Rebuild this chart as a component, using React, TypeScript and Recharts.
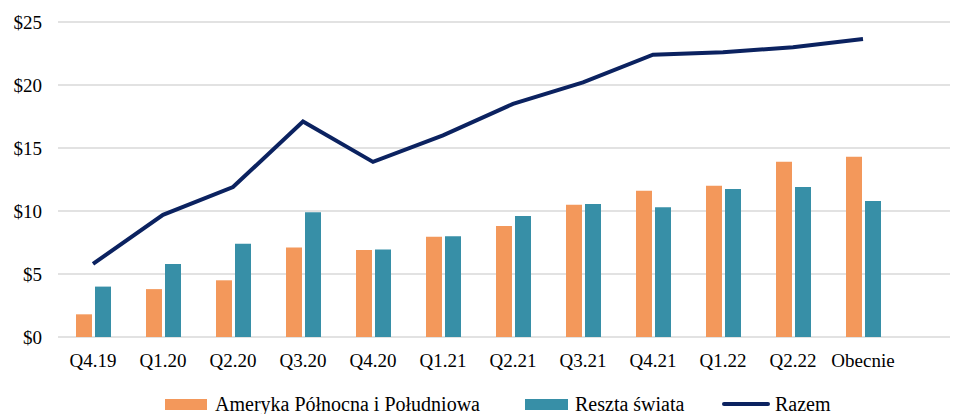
import { Bar, Line, XAxis, YAxis, CartesianGrid, Legend, ComposedChart } from 'recharts';

// kwartały
const quarters = ['Q4.19', 'Q1.20', 'Q2.20', 'Q3.20', 'Q4.20', 'Q1.21', 'Q2.21', 'Q3.21', 'Q4.21', 'Q1.22', 'Q2.22', 'Obecnie'];
const americas = [1.8, 3.8, 4.5, 7.1, 6.9, 7.95, 8.8, 10.5, 11.6, 12.0, 13.9, 14.3];
const restOfWorld = [4.0, 5.8, 7.4, 9.9, 6.95, 8.0, 9.6, 10.55, 10.3, 11.75, 11.9, 10.8];
const total = [5.8, 9.7, 11.9, 17.1, 13.9, 16.0, 18.5, 20.2, 22.4, 22.6, 23.0, 23.65];
const yTicks = [0, 5, 10, 15, 20, 25];

const data = quarters.map((q, i) => ({
    quarter: q,
    americas: americas[i],
    rest: restOfWorld[i],
    total: total[i],
}));

const ORANGE = '#F3985B';
const TEAL = '#378FA7';
const NAVY = '#0B2260';
const FONT = 'Liberation Serif, DejaVu Serif, serif';

function LegendContent() {
    const iconStyle = (left: number, width: number, height: number, color: string) => ({
        position: 'absolute' as const,
        left,
        top: 10 - height / 2,
        width,
        height,
        background: color,
        borderRadius: height < 6 ? 2 : 0,
    });
    const textStyle = (left: number) => ({ position: 'absolute' as const, left, top: 0 });
    return (
        <div style={{ position: 'relative', fontFamily: FONT, fontSize: 20, color: '#000', lineHeight: '20px', height: 20, width: 955, whiteSpace: 'nowrap' }}>
            <span style={iconStyle(165, 42, 11, ORANGE)} />
            <span style={textStyle(215)}>Ameryka Północna i Południowa</span>
            <span style={iconStyle(525, 43, 11, TEAL)} />
            <span style={textStyle(575)}>Reszta świata</span>
            <span style={iconStyle(722, 48, 4, NAVY)} />
            <span style={textStyle(775)}>Razem</span>
        </div>
    );
}

export default function App() {
    return (
        <div style={{ position: 'absolute', top: 0, left: 0, background: '#fff' }}>
            <ComposedChart width={955} height={414} data={data} margin={{ top: 22, right: 5, left: 0, bottom: 0 }} barSize={16} barGap={3}>
                <CartesianGrid vertical={false} stroke="#d9d9d9" strokeWidth={1.5} />
                <XAxis
                    dataKey="quarter"
                    axisLine={false}
                    tickLine={false}
                    height={57}
                    tickMargin={11}
                    padding={{ left: 0, right: 52 }}
                    interval={0}
                    tick={{ fontSize: 19, fill: '#000', style: { fontFamily: FONT } }}
                />
                <YAxis
                    width={58}
                    domain={[0, 25]}
                    ticks={yTicks}
                    axisLine={false}
                    tickLine={false}
                    tickMargin={10}
                    tickFormatter={(v) => `$${v}`}
                    tick={{ fontSize: 19, fill: '#000', style: { fontFamily: FONT } }}
                />
                <Legend content={<LegendContent />} wrapperStyle={{ top: 394, left: 0, width: 955 }} />
                <Bar dataKey="americas" name="Ameryka Północna i Południowa" fill={ORANGE} isAnimationActive={false} />
                <Bar dataKey="rest" name="Reszta świata" fill={TEAL} isAnimationActive={false} />
                <Line type="linear" dataKey="total" name="Razem" stroke={NAVY} strokeWidth={4} dot={false} isAnimationActive={false} />
            </ComposedChart>
        </div>
    );
}
